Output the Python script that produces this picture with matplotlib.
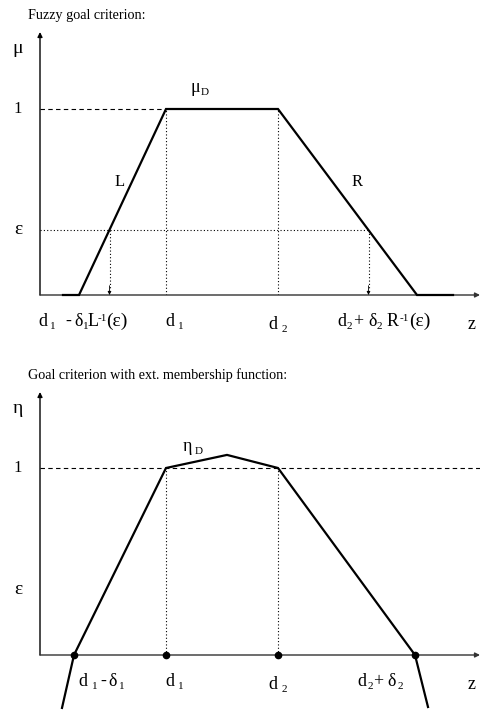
import matplotlib
matplotlib.use("Agg")
import matplotlib.pyplot as plt
from matplotlib.transforms import offset_copy

plt.rcParams['font.family'] = ['Liberation Serif', 'DejaVu Serif']

# ---- data: fuzzy goal criterion (trapezoidal membership) ----
d1 = 126
d2 = 238
eps = 0.35
mu_z = [23, 39, d1, d2, 377, 413]
mu_v = [0, 0, 1, 1, 0, 0]
cut_left = 69.5    # d1 - delta1 L^-1(eps)
cut_right = 328.5  # d2 + delta2 R^-1(eps)

# ---- data: extended membership function ----
eta_z = [22, 34, d1, 187, d2, 375, 388]
eta_v = [-0.283, 0, 1, 1.07, 1, 0, -0.278]
eta_pts_z = [34, d1, d2, 375]

W, H = 480, 715
fig = plt.figure(figsize=(W / 100, H / 100), dpi=100)

BASE = 13
SUB = 8
SUB_DY = -3
SUP_DY = 5


def make_axes(px_top, px_zero, unit_px):
    ax = fig.add_axes([40 / W, 1 - px_zero / H, 440 / W, (px_zero - px_top) / H])
    ax.set_xlim(0, 440)
    ax.set_ylim(0, (px_zero - px_top) / unit_px)
    ax.axis('off')
    return ax


def draw_axes_lines(ax, ytop):
    ax.annotate('', xy=(0, ytop), xytext=(0, 0),
                arrowprops=dict(arrowstyle='-|>', lw=1.0, color='black',
                                mutation_scale=7, shrinkA=0, shrinkB=0),
                annotation_clip=False)
    ax.annotate('', xy=(440, 0), xytext=(0, 0),
                arrowprops=dict(arrowstyle='-|>', lw=1.0, color='#333333',
                                mutation_scale=7, shrinkA=0, shrinkB=0),
                annotation_clip=False)


def pieces(ax, y, parts):
    """Place label pieces (x, text, kind) on a common baseline y."""
    for x, s, kind in parts:
        if kind == 'b':
            size, dy = BASE, 0
        elif kind == 'e':
            size, dy = 14, 0
        elif kind == 's':
            size, dy = SUB, SUB_DY
        else:
            size, dy = SUB, SUP_DY
        tr = offset_copy(ax.transData, fig=fig, x=0, y=dy, units='dots')
        ax.text(x, y, s, fontsize=size, ha='left', va='baseline',
                transform=tr, clip_on=False)


# ================= top panel =================
top = make_axes(30, 295, 186)
draw_axes_lines(top, (295 - 32) / 186)

top.text(-12, 1.505, 'Fuzzy goal criterion:', fontsize=10.2, ha='left',
         va='center', clip_on=False)
top.text(-22, 1.325, 'μ', fontsize=14, ha='center', va='center', clip_on=False)
top.text(-22, 1.0, '1', fontsize=12, ha='center', va='center', clip_on=False)
top.text(-22, eps, 'ε', fontsize=14, ha='center', va='center', clip_on=False)

top.plot([0, d1], [1, 1], color='black', lw=0.8, ls=(0, (4, 3)))
top.plot([0, cut_right], [eps, eps], color='black', lw=0.8, ls=(0, (1, 2)))
for zv in (d1, d2):
    top.plot([zv, zv], [0, 1], color='black', lw=0.8, ls=(0, (1, 2)))
for zv in (cut_left, cut_right):
    top.plot([zv, zv], [eps, 0.04], color='black', lw=0.8, ls=(0, (1, 2)))
    top.annotate('', xy=(zv, 0), xytext=(zv, 0.05),
                 arrowprops=dict(arrowstyle='-|>', lw=0.6, color='black',
                                 mutation_scale=5, shrinkA=0, shrinkB=0))

top.plot(mu_z, mu_v, color='black', lw=1.6, solid_joinstyle='miter',
         clip_on=False, zorder=3)

top.text(80, 0.61, 'L', fontsize=12, ha='center', va='center')
top.text(317, 0.61, 'R', fontsize=12, ha='center', va='center')
mu_b = (295 - 92) / 186
pieces(top, mu_b, [(150, 'μ', 'b'), (161, 'D', 's')])

ybl = (295 - 326) / 186
ybl2 = (295 - 329) / 186
pieces(top, ybl, [(-2, 'd', 'b'), (10, '1', 's'), (25, '-', 'b'), (34, 'δ', 'b'),
                  (43, '1', 's'), (48, 'L', 'b'), (58, '-1', 'p'), (66, '(ε)', 'e')])
pieces(top, ybl, [(125, 'd', 'b'), (138, '1', 's')])
pieces(top, ybl2, [(228, 'd', 'b'), (242, '2', 's')])
pieces(top, ybl, [(297, 'd', 'b'), (307, '2', 's'), (313, '+', 'b'), (328, 'δ', 'b'),
                  (337, '2', 's'), (347, 'R', 'b'), (360, '-1', 'p'), (369, '(ε)', 'e')])
pieces(top, ybl2, [(428, 'z', 'b')])

# ================= bottom panel =================
bot = make_axes(390, 655, 187)
draw_axes_lines(bot, (655 - 392) / 187)

bot.text(-12, 1.497, 'Goal criterion with ext. membership function:',
         fontsize=10.2, ha='left', va='center', clip_on=False)
bot.text(-22, 1.32, 'η', fontsize=14, ha='center', va='center', clip_on=False)
bot.text(-22, 1.0, '1', fontsize=12, ha='center', va='center', clip_on=False)
bot.text(-22, 0.348, 'ε', fontsize=14, ha='center', va='center', clip_on=False)

bot.plot([0, 440], [1, 1], color='black', lw=0.8, ls=(0, (4, 3)))
for zv in (d1, d2):
    bot.plot([zv, zv], [0, 1], color='black', lw=0.8, ls=(0, (1, 2)))

bot.plot(eta_z, eta_v, color='black', lw=1.6, solid_joinstyle='miter',
         clip_on=False, zorder=3)
bot.plot(eta_pts_z, [0] * len(eta_pts_z), 'o', color='black', ms=4.5,
         clip_on=False, zorder=4)

eta_b = (655 - 451) / 187
pieces(bot, eta_b, [(143, 'η', 'b'), (155, 'D', 's')])

bbl = (655 - 686) / 187
bbl2 = (655 - 689) / 187
pieces(bot, bbl, [(38, 'd', 'b'), (52, '1', 's'), (60, '-', 'b'), (68, 'δ', 'b'),
                  (79, '1', 's')])
pieces(bot, bbl, [(125, 'd', 'b'), (138, '1', 's')])
pieces(bot, bbl2, [(228, 'd', 'b'), (242, '2', 's')])
pieces(bot, bbl, [(317, 'd', 'b'), (328, '2', 's'), (333, '+', 'b'), (347, 'δ', 'b'),
                  (358, '2', 's')])
pieces(bot, bbl2, [(428, 'z', 'b')])

fig.savefig('out.png', dpi=100)
